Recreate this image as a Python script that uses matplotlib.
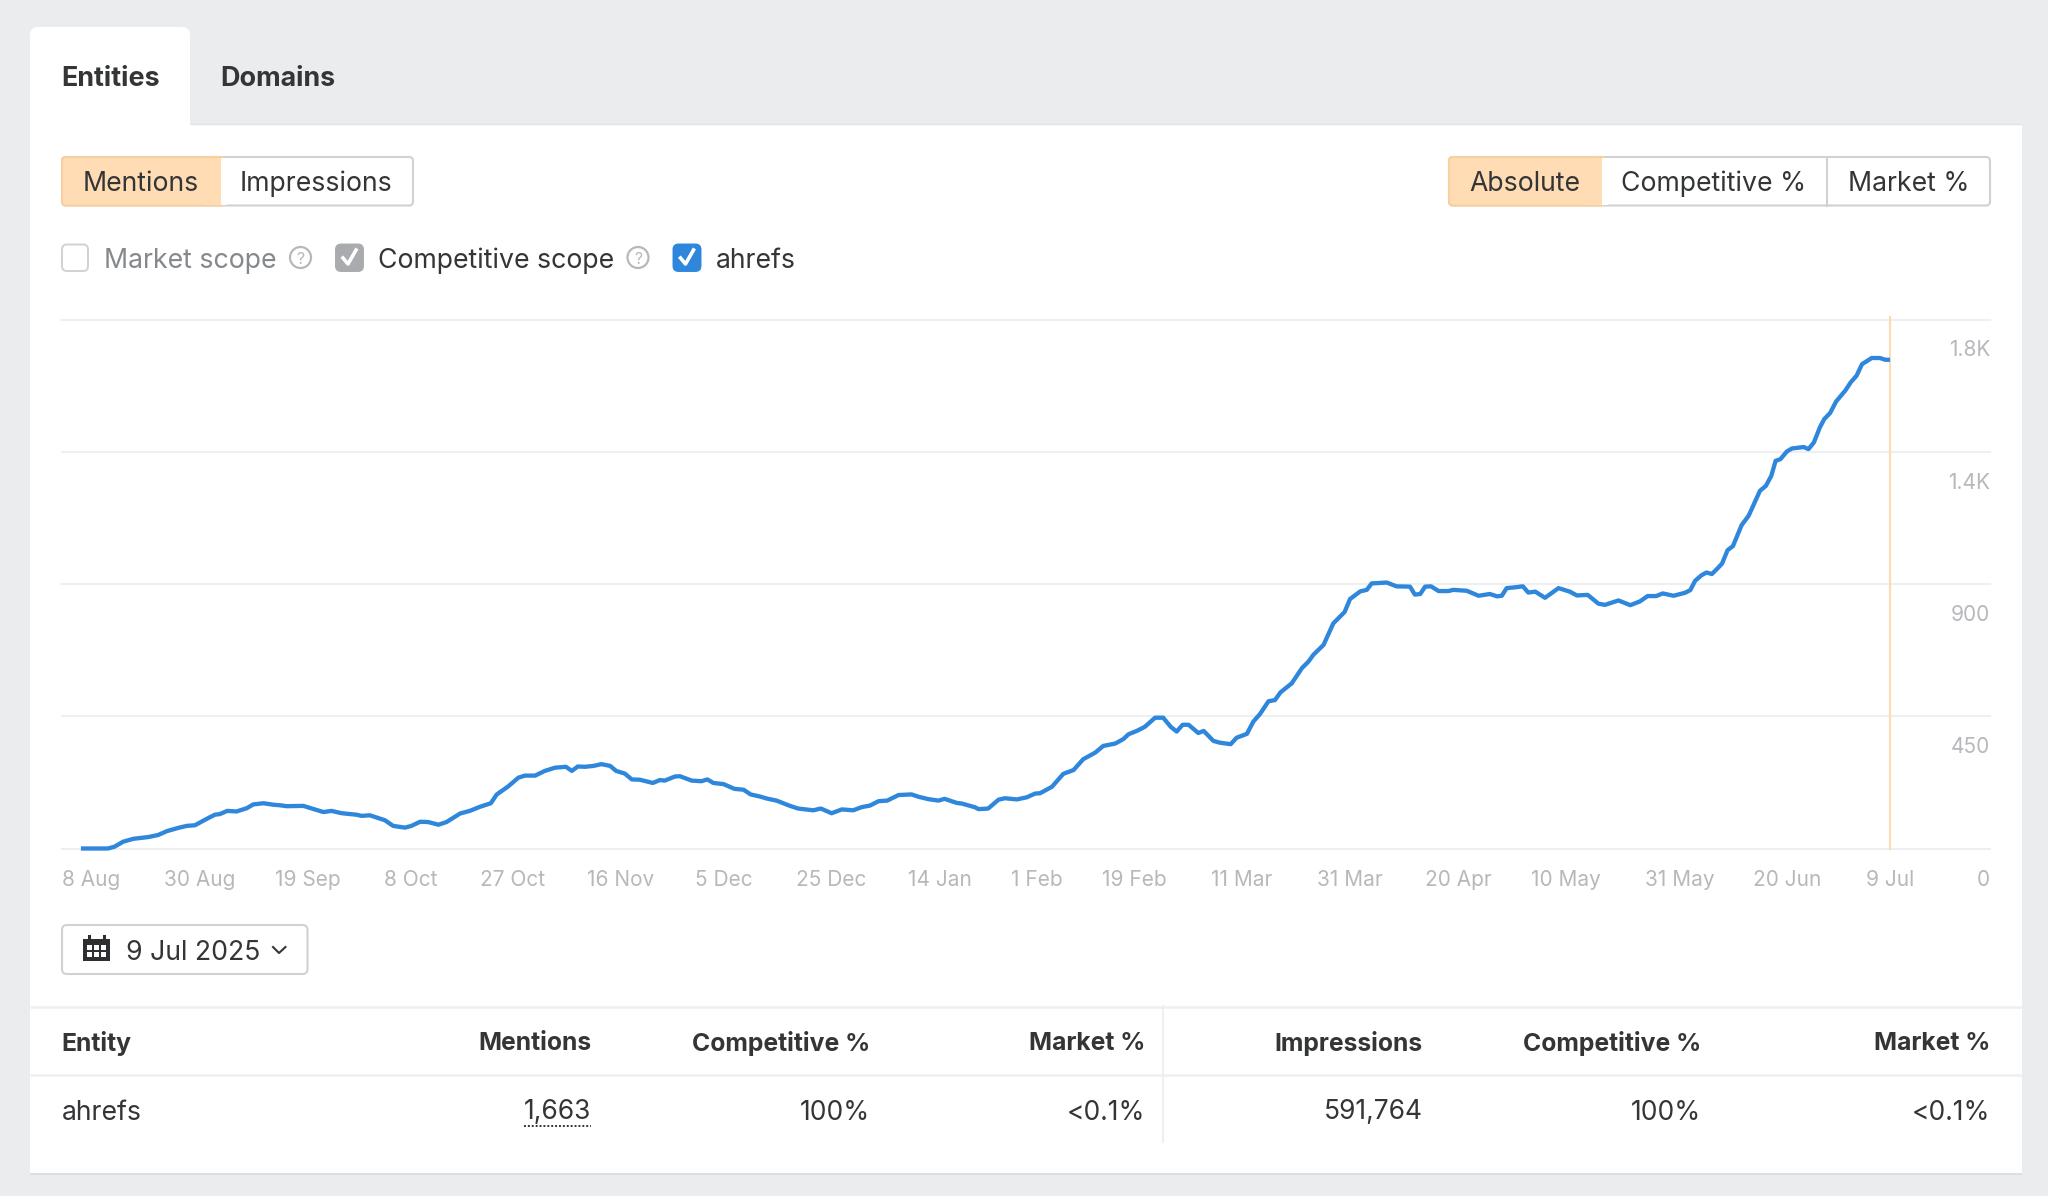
import matplotlib
matplotlib.use('Agg')
import matplotlib.pyplot as plt
from matplotlib.patches import FancyBboxPatch, Rectangle, Circle

plt.rcParams['font.family'] = ['Inter', 'DejaVu Sans']

# mentions per day (day 0 = 8 Aug 2024)
days = [0, 5, 6.2, 7.8, 9.7, 12.5, 14.3, 15.9, 18, 19.6, 21.1, 23, 24.8, 25.7, 27.1, 28.8, 30.7, 31.9, 33.8,
        35.6, 36.9, 38.1, 41.2, 42.4, 44.9, 46.4, 48.3, 51, 52, 53.5, 56.3, 57.8, 60, 61.2, 62.8, 64.3,
        66.2, 67.7, 70.2, 72, 73.9, 75.9, 77, 79.1, 81, 82.2, 84.1, 85.9, 87.8, 89.8, 90.9, 92, 93.3, 94.9,
        96.4, 98, 99.1, 100.7, 102, 103.5, 105.9, 107.2, 108.1, 110, 110.9, 113.1, 114.9, 116, 117.1, 119,
        121, 122.7, 124, 125.7, 127, 128.8, 131.3, 132.8, 135.6, 137, 139, 140.9, 143, 144.6, 146.1, 147.7,
        149.3, 151.4, 153.8, 155.1, 156.9, 158.8, 159.9, 162.2, 163.1, 165.6, 166.2, 168, 169.9, 171.1,
        173.3, 175.1, 176.7, 177.6, 179.8, 181.9, 183.8, 185.6, 187.8, 189.3, 191.5, 193, 194, 195.5, 197,
        198.9, 200.4, 201.8, 202.9, 204, 205.1, 206.9, 207.9, 209.7, 210.9, 212.9, 214, 215.9, 217.1, 218.3,
        219.9, 221.1, 222.1, 224.2, 226.1, 227.3, 228.2, 230.1, 231.9, 234, 235, 236.9, 238.1, 239, 241.8,
        243.6, 246.1, 247, 248, 248.9, 250, 251.4, 253.2, 254.1, 256.6, 258.8, 260.9, 262.2, 263.1, 264,
        265.2, 267, 268, 269.3, 271.1, 273.6, 275.7, 277, 279, 281, 282.2, 284.7, 286.9, 288.7, 290.1, 291.7,
        292.9, 294.9, 297, 298, 298.9, 300.1, 301, 302, 303.2, 303.9, 304.9, 305.9, 307.5, 308.8, 310.9, 312,
        313, 313.8, 314.7, 315.9, 316.8, 319, 319.9, 320.9, 322, 322.8, 323.9, 325, 326.7, 327.7, 328.8,
        329.8, 331.6, 333.1, 334.1, 335]
mentions = [0, 0, 6, 23, 33, 39, 46, 59, 70, 77, 79, 98, 115, 117, 128, 126, 137, 150, 154,
            149, 147, 144, 145, 138, 124, 128, 120, 115, 111, 113, 96, 77, 71, 77, 91, 90,
            81, 90, 119, 128, 142, 154, 184, 211, 241, 248, 248, 264, 275, 278, 264, 279, 278, 281,
            287, 281, 264, 255, 235, 234, 223, 233, 231, 245, 246, 231, 229, 235, 223, 219,
            203, 200, 184, 177, 170, 163, 145, 136, 130, 136, 120, 133, 130, 141, 146, 161,
            163, 182, 184, 176, 168, 163, 169, 155, 153, 140, 134, 136, 166, 171,
            167, 174, 187, 188, 210, 254, 267, 304, 326, 349, 357, 372, 389, 400, 414,
            445, 445, 414, 398, 421, 421, 393, 400, 366, 360, 355, 377, 390, 432, 457,
            501, 505, 531, 562, 614, 636, 659, 693, 766, 805, 849, 875, 880, 902, 905,
            892, 891, 864, 866, 891, 892, 876, 876, 880, 877, 860, 866, 858, 860, 886,
            888, 892, 871, 874, 853, 886, 874, 861, 863, 833, 829, 844, 828, 841, 859, 859,
            868, 860, 870, 879, 911, 930, 939, 934, 956, 970, 1015, 1029, 1100, 1132, 1217, 1234,
            1268, 1319, 1325, 1351, 1361, 1366, 1359, 1382, 1433, 1461, 1482, 1521, 1558, 1586, 1609,
            1648, 1669, 1669, 1663, 1663]

tick_days = [0, 22, 42, 61, 80, 100, 119, 139, 159, 177, 195, 215, 235, 255, 275, 296, 316, 335]
tick_labels = ['8 Aug', '30 Aug', '19 Sep', '8 Oct', '27 Oct', '16 Nov', '5 Dec', '25 Dec', '14 Jan', '1 Feb',
               '19 Feb', '11 Mar', '31 Mar', '20 Apr', '10 May', '31 May', '20 Jun', '9 Jul']
y_ticks = [0, 450, 900, 1350, 1800]
y_labels = ['0', '450', '900', '1.4K', '1.8K']

table_columns = ['Entity', 'Mentions', 'Competitive %', 'Market %', 'Impressions', 'Competitive %', 'Market %']
table_row = ['ahrefs', '1,663', '100%', '<0.1%', '591,764', '100%', '<0.1%']
table_right = [None, 591.5, 870, 1145, 1423, 1701, 1990.5]

W, H = 2048, 1196
BG = '#ebecee'
TXT = '#333537'
BORDER = '#cfd1d3'
ORANGE = '#ffdcb3'
LINE = '#eeeff0'
MUTED = '#b6b8bb'

fig = plt.figure(figsize=(W / 100, H / 100), dpi=100, facecolor=BG)

# overlay in screen pixels for the page around the chart
ui = fig.add_axes([0, 0, 1, 1])
ui.set_xlim(0, W)
ui.set_ylim(H, 0)
ui.axis('off')


def box(x0, y0, x1, y1, fc='white', ec=BORDER, lw=1.5, r=4, z=2):
    p = FancyBboxPatch((x0 + r, y0 + r), x1 - x0 - 2 * r, y1 - y0 - 2 * r,
                       boxstyle='round,pad=%s,rounding_size=%s' % (r, r),
                       fc=fc, ec=ec, lw=lw, zorder=z)
    ui.add_patch(p)


def label(x, y, s, size=19.2, color=TXT, ha='left', weight='normal'):
    ui.text(x, y, s, fontsize=size, color=color, ha=ha, va='center_baseline', fontweight=weight, zorder=5)


def hline(y, x0, x1, color=LINE, lw=1.8):
    ui.plot([x0, x1], [y, y], color=color, lw=lw, solid_capstyle='butt', zorder=3)


def checkbox(x0, x1, fc, ec, tick=True):
    box(x0, 244.5, x1, 271, fc=fc, ec=ec, lw=1.4, r=5)
    if tick:
        ui.plot([x0 + 7, x0 + 12, x0 + 20], [258, 264, 250], color='white', lw=2.6, zorder=4)


def help_icon(x):
    ui.add_patch(Circle((x, 257.5), 10.5, fc='none', ec=MUTED, lw=1.6, zorder=3))
    label(x, 258, '?', size=11.5, color=MUTED, ha='center')


# card and tab
ui.add_patch(Rectangle((30, 1172), 1992, 3, fc='#dcdee0', ec='none', zorder=1))
ui.add_patch(Rectangle((30, 124), 1992, 1049, fc='white', ec='none', zorder=1))
hline(124, 190, 2022, color='#e2e3e5', lw=1)
box(30, 27, 190, 140, ec='none', lw=0, r=8, z=1)
label(61, 76, 'Entities', size=19.4, weight='bold')
label(220.5, 76, 'Domains', size=19.4, weight='bold')

# toggle buttons
box(62, 157, 413, 205.5)
box(62, 157, 225, 205.5, fc=ORANGE, ec='#f8cfa0')
ui.add_patch(Rectangle((205, 158), 16, 46.5, fc=ORANGE, ec='none', zorder=3))
ui.add_patch(Rectangle((221, 158), 6, 46.5, fc='white', ec='none', zorder=3))
label(141, 181, 'Mentions', ha='center')
label(316.5, 181, 'Impressions', ha='center')

box(1449, 157, 1990, 205.5)
box(1449, 157, 1606, 205.5, fc=ORANGE, ec='#f8cfa0')
ui.add_patch(Rectangle((1586, 158), 16, 46.5, fc=ORANGE, ec='none', zorder=3))
ui.add_patch(Rectangle((1602, 158), 6, 46.5, fc='white', ec='none', zorder=3))
ui.plot([1827, 1827], [157, 205.5], color=BORDER, lw=1.5, zorder=3)
label(1524.5, 181, 'Absolute', ha='center')
label(1714, 181, 'Competitive %', ha='center')
label(1908.5, 181, 'Market %', ha='center')

# scope checkboxes
checkbox(62, 88, 'white', '#cfd1d3', tick=False)
label(104.5, 257.5, 'Market scope', color='#85888c')
help_icon(300.5)
checkbox(336, 363, '#a9abae', '#a9abae')
label(378.5, 257.5, 'Competitive scope')
help_icon(638)
checkbox(673.5, 700.5, '#2f87dc', '#2f87dc')
label(715.5, 257.5, 'ahrefs')

# date picker
box(62, 925, 307.5, 974, r=5)
ui.add_patch(Rectangle((83, 939), 27, 22, fc='#2d2f31', ec='none', zorder=3))
for cx in (89, 104):
    ui.plot([cx, cx], [935.5, 941], color='#2d2f31', lw=2.2, zorder=3)
for row_y in (945, 952):
    for cx in (87, 94, 101):
        ui.add_patch(Rectangle((cx, row_y), 4.5, 4.5, fc='white', ec='none', zorder=4))
label(125.5, 949.5, '9 Jul 2025')
ui.plot([273, 279, 285.5], [947, 953, 947], color=TXT, lw=1.5, zorder=4)

# table
hline(1006.5, 30, 2022)
hline(1074.5, 30, 2022)
ui.plot([1162.5, 1162.5], [1006, 1142], color=LINE, lw=1.5, zorder=3)
for i in range(len(table_columns)):
    if i == 0:
        label(61, 1040.5, table_columns[i], size=17.8, weight='bold')
        label(61.5, 1109.5, table_row[i])
    else:
        label(table_right[i], 1040.5, table_columns[i], size=17.8, ha='right', weight='bold')
        label(table_right[i], 1109.5, table_row[i], size=19, ha='right')
ui.plot([524, 591], [1126, 1126], color=TXT, lw=1.4, ls=(0, (1, 1)), zorder=4)

# chart
ax = fig.add_axes([61.5 / W, (H - 848.5) / H, 1928.5 / W, 529 / H])
ax.patch.set_alpha(0)
ax.set_xlim(-3.6, 353.5)
ax.set_ylim(0, 1800)
for s in ax.spines.values():
    s.set_visible(False)
ax.set_yticks(y_ticks)
ax.set_yticklabels([])
ax.grid(axis='y', color=LINE, lw=1.5, clip_on=False)
ax.set_axisbelow(True)
ax.set_xticks(tick_days[1:], tick_labels[1:])
ax.tick_params(axis='both', length=0)
ax.tick_params(axis='x', pad=23, labelsize=15, labelcolor=MUTED)
plt.setp(ax.get_xticklabels(), va='center')
ax.annotate(tick_labels[0], xy=(0, 0), xycoords='axes fraction', xytext=(0, -32), textcoords='offset pixels',
            ha='left', va='center', fontsize=15, color=MUTED)
for v, s in zip(y_ticks, y_labels):
    ax.annotate(s, xy=(1, v), xycoords=ax.get_yaxis_transform(), xytext=(0, -31), textcoords='offset pixels',
                ha='right', va='center', fontsize=15, color=MUTED)

ax.axvline(tick_days[-1], ymin=0, ymax=1.004, color='#fcdcb4', lw=1.5, clip_on=False, zorder=2)
ax.plot(days, mentions, color='#2f87dc', lw=3.1, solid_joinstyle='round', solid_capstyle='butt', clip_on=False, zorder=3)

plt.savefig('out.png', dpi=100, facecolor=BG)
